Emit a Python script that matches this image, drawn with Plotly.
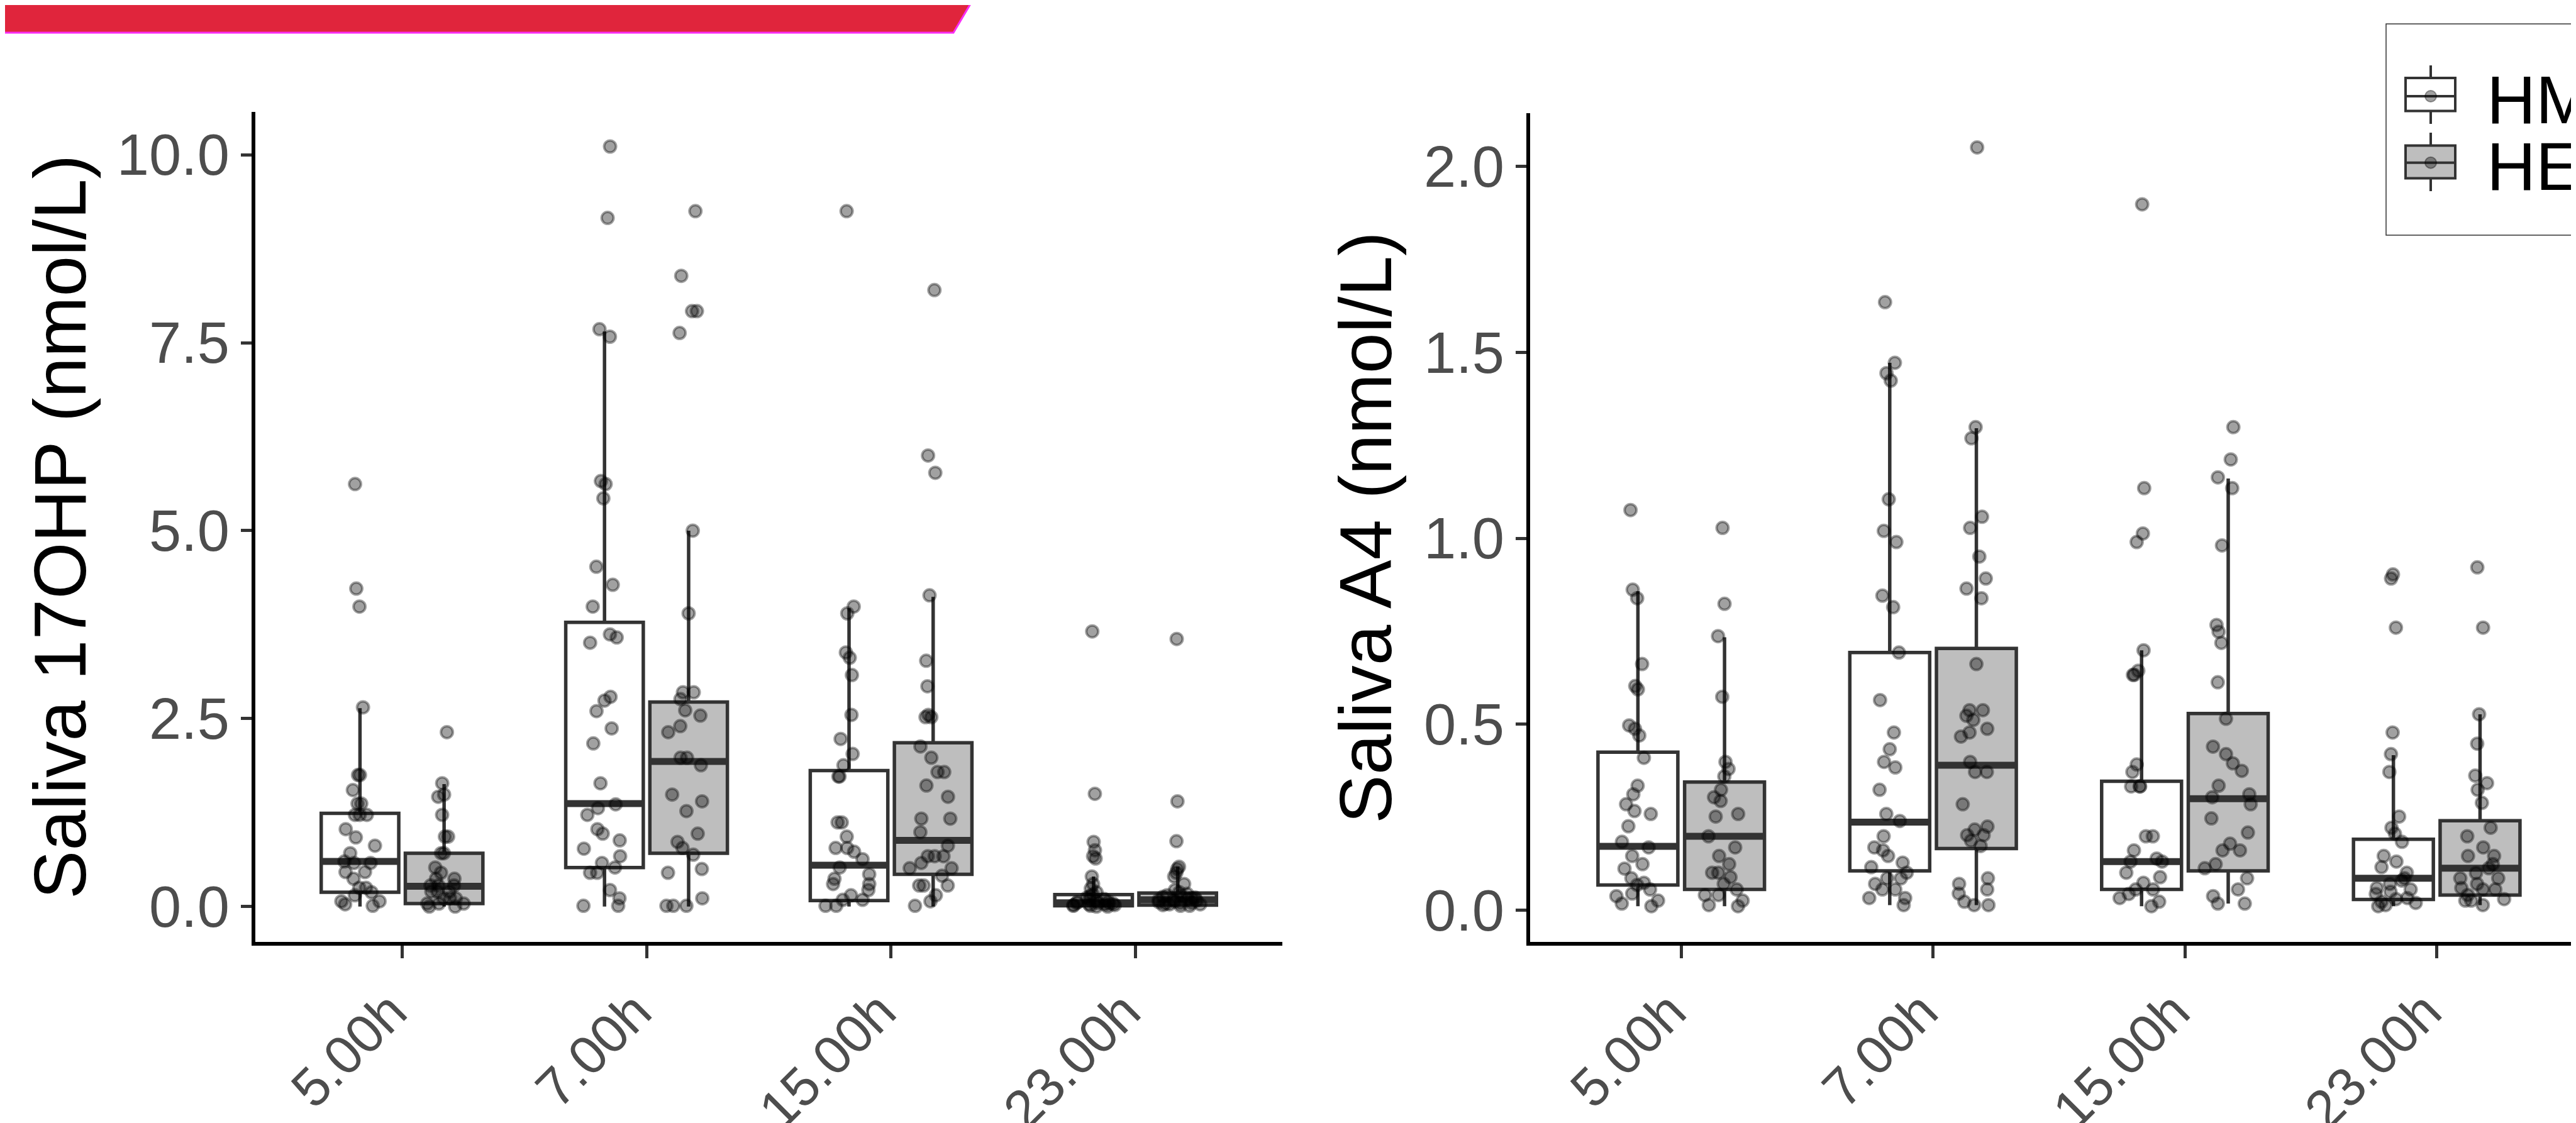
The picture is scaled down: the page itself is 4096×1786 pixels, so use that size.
import plotly.graph_objects as go

W, H = 4096, 1786

TIMES = ["5.00h", "7.00h", "15.00h", "23.00h"]
GROUPS = ["HM", "HE"]

# ---------------- Saliva 17OHP (nmol/L): individual values ----------------
OHP_HM_5 = [5.62, 4.23, 3.99, 2.65, 1.75, 1.75, 1.55, 1.37, 1.37, 1.22, 1.22, 1.22, 1.03, 0.92, 0.81,
            0.71, 0.60, 0.58, 0.58, 0.46, 0.46, 0.37, 0.25, 0.25, 0.19, 0.15, 0.07, 0.07, 0.03, 0.01]
OHP_HM_7 = [10.11, 9.16, 7.68, 7.58, 5.66, 5.62, 5.43, 4.52, 4.28, 3.99, 3.62, 3.58, 3.51, 2.79, 2.74,
            2.60, 2.37, 2.17, 1.64, 1.36, 1.31, 1.22, 1.03, 0.97, 0.88, 0.77, 0.67, 0.58, 0.52, 0.45,
            0.45, 0.22, 0.11, 0.01, 0.01]
OHP_HM_15 = [9.25, 3.99, 3.90, 3.38, 3.31, 3.08, 2.55, 2.23, 2.03, 1.88, 1.73, 1.73, 1.12, 1.12, 0.93,
             0.78, 0.78, 0.73, 0.63, 0.52, 0.43, 0.37, 0.30, 0.30, 0.22, 0.15, 0.09, 0.09, 0.01, 0.01]
OHP_HM_23 = [3.66, 1.50, 0.86, 0.75, 0.67, 0.64, 0.40, 0.30, 0.24, 0.19, 0.16, 0.14, 0.12, 0.10, 0.09,
             0.08, 0.07, 0.06, 0.05, 0.05, 0.04, 0.04, 0.03, 0.03, 0.02, 0.02, 0.01, 0.01, 0.00, 0.00]
OHP_HE_5 = [2.32, 1.64, 1.49, 1.46, 1.22, 0.93, 0.93, 0.71, 0.71, 0.52, 0.45, 0.37, 0.37, 0.28, 0.28,
            0.28, 0.20, 0.20, 0.20, 0.11, 0.11, 0.11, 0.04, 0.04, 0.04, 0.00, 0.00]
OHP_HE_7 = [9.25, 8.39, 7.92, 7.92, 7.63, 5.00, 3.90, 2.85, 2.85, 2.76, 2.61, 2.54, 2.40, 2.32, 1.98,
            1.98, 1.88, 1.49, 1.40, 1.27, 0.97, 0.86, 0.78, 0.69, 0.50, 0.45, 0.11, 0.01, 0.01, 0.01]
OHP_HE_15 = [8.20, 6.00, 5.77, 4.14, 3.27, 2.93, 2.55, 2.52, 2.52, 2.13, 1.98, 1.79, 1.79, 1.61, 1.46,
             1.17, 1.17, 0.99, 0.81, 0.67, 0.67, 0.67, 0.58, 0.51, 0.51, 0.41, 0.28, 0.28, 0.28, 0.15,
             0.07, 0.01]
OHP_HE_23 = [3.56, 1.40, 0.87, 0.53, 0.50, 0.45, 0.40, 0.30, 0.22, 0.19, 0.17, 0.15, 0.14, 0.13, 0.12,
             0.11, 0.10, 0.09, 0.09, 0.08, 0.07, 0.06, 0.05, 0.05, 0.04, 0.03, 0.03, 0.02, 0.01, 0.01]

# box statistics (per time point) for 17OHP
OHP_HM_Q1 = [0.19, 0.52, 0.08, 0.01]
OHP_HM_MED = [0.60, 1.37, 0.55, 0.05]
OHP_HM_Q3 = [1.24, 3.78, 1.81, 0.16]
OHP_HM_LO = [0.00, 0.00, 0.00, 0.00]
OHP_HM_HI = [2.64, 7.65, 3.97, 0.40]
OHP_HE_Q1 = [0.04, 0.71, 0.43, 0.02]
OHP_HE_MED = [0.27, 1.93, 0.88, 0.09]
OHP_HE_Q3 = [0.71, 2.72, 2.18, 0.18]
OHP_HE_LO = [0.00, 0.00, 0.00, 0.00]
OHP_HE_HI = [1.63, 5.00, 4.12, 0.53]

# ---------------- Saliva A4 (nmol/L): individual values ----------------
A4_HM_5 = [1.076, 0.862, 0.839, 0.662, 0.603, 0.594, 0.497, 0.488, 0.470, 0.410, 0.335, 0.312, 0.285,
           0.267, 0.259, 0.226, 0.184, 0.169, 0.146, 0.124, 0.112, 0.086, 0.074, 0.068, 0.056, 0.045,
           0.038, 0.026, 0.018, 0.011]
A4_HM_7 = [1.635, 1.472, 1.444, 1.424, 1.105, 1.020, 0.990, 0.846, 0.815, 0.693, 0.565, 0.478, 0.433,
           0.399, 0.384, 0.324, 0.259, 0.240, 0.199, 0.169, 0.161, 0.146, 0.128, 0.116, 0.101, 0.086,
           0.086, 0.071, 0.056, 0.056, 0.033, 0.033, 0.014]
A4_HM_15 = [1.898, 1.135, 1.013, 0.990, 0.699, 0.644, 0.633, 0.633, 0.392, 0.372, 0.333, 0.333, 0.333,
            0.199, 0.199, 0.161, 0.139, 0.131, 0.131, 0.101, 0.089, 0.074, 0.056, 0.056, 0.044, 0.033,
            0.023, 0.011]
A4_HM_23 = [0.903, 0.892, 0.760, 0.478, 0.420, 0.372, 0.252, 0.222, 0.206, 0.184, 0.146, 0.131, 0.116,
            0.101, 0.086, 0.080, 0.071, 0.060, 0.056, 0.050, 0.044, 0.033, 0.030, 0.023, 0.020, 0.014,
            0.011]
A4_HE_5 = [1.028, 0.824, 0.737, 0.574, 0.399, 0.380, 0.360, 0.324, 0.304, 0.294, 0.259, 0.252, 0.199,
           0.169, 0.146, 0.124, 0.101, 0.101, 0.089, 0.071, 0.056, 0.041, 0.041, 0.026, 0.014, 0.011]
A4_HE_7 = [2.051, 1.299, 1.269, 1.058, 1.028, 0.951, 0.892, 0.865, 0.839, 0.662, 0.538, 0.538, 0.523,
           0.512, 0.488, 0.478, 0.467, 0.399, 0.372, 0.372, 0.285, 0.225, 0.217, 0.202, 0.202, 0.187,
           0.173, 0.086, 0.071, 0.056, 0.045, 0.023, 0.014, 0.014]
A4_HE_15 = [1.299, 1.212, 1.164, 1.135, 0.981, 0.767, 0.749, 0.719, 0.613, 0.515, 0.440, 0.420, 0.395,
            0.375, 0.335, 0.312, 0.304, 0.285, 0.247, 0.209, 0.179, 0.161, 0.161, 0.124, 0.113, 0.086,
            0.056, 0.038, 0.018, 0.018]
A4_HE_23 = [0.922, 0.760, 0.527, 0.448, 0.362, 0.342, 0.324, 0.289, 0.222, 0.199, 0.169, 0.146, 0.146,
            0.124, 0.113, 0.100, 0.086, 0.086, 0.071, 0.060, 0.056, 0.056, 0.041, 0.030, 0.026, 0.026,
            0.014]

# box statistics (per time point) for A4
A4_HM_Q1 = [0.068, 0.106, 0.056, 0.029]
A4_HM_MED = [0.172, 0.237, 0.131, 0.086]
A4_HM_Q3 = [0.425, 0.693, 0.347, 0.191]
A4_HM_LO = [0.011, 0.014, 0.011, 0.011]
A4_HM_HI = [0.858, 1.472, 0.699, 0.417]
A4_HE_Q1 = [0.056, 0.166, 0.106, 0.041]
A4_HE_MED = [0.199, 0.390, 0.300, 0.113]
A4_HE_Q3 = [0.345, 0.704, 0.529, 0.241]
A4_HE_LO = [0.011, 0.014, 0.018, 0.014]
A4_HE_HI = [0.734, 1.296, 1.161, 0.527]

# axis ticks / titles
OHP_TICKS = [0.0, 2.5, 5.0, 7.5, 10.0]
A4_TICKS = [0.0, 0.5, 1.0, 1.5, 2.0]
OHP_TITLE = "Saliva 17OHP (nmol/L)"
A4_TITLE = "Saliva A4 (nmol/L)"

# ---------------- styling ----------------
FONT = "Liberation Sans, Arial, Helvetica, sans-serif"
BOX_LINE = "#333333"
FILL = {"HM": "#FFFFFF", "HE": "#BEBEBE"}
PT_COLOR = "rgba(0,0,0,0.37)"
TICK_GREY = "#4D4D4D"


def X(px):
    return px / W


def Y(py):
    return 1 - py / H


panels = [
    dict(xa="x", ya="y",
         pts={"HM": [OHP_HM_5, OHP_HM_7, OHP_HM_15, OHP_HM_23],
              "HE": [OHP_HE_5, OHP_HE_7, OHP_HE_15, OHP_HE_23]},
         stats={"HM": (OHP_HM_Q1, OHP_HM_MED, OHP_HM_Q3, OHP_HM_LO, OHP_HM_HI),
                "HE": (OHP_HE_Q1, OHP_HE_MED, OHP_HE_Q3, OHP_HE_LO, OHP_HE_HI)}),
    dict(xa="x2", ya="y2",
         pts={"HM": [A4_HM_5, A4_HM_7, A4_HM_15, A4_HM_23],
              "HE": [A4_HE_5, A4_HE_7, A4_HE_15, A4_HE_23]},
         stats={"HM": (A4_HM_Q1, A4_HM_MED, A4_HM_Q3, A4_HM_LO, A4_HM_HI),
                "HE": (A4_HE_Q1, A4_HE_MED, A4_HE_Q3, A4_HE_LO, A4_HE_HI)}),
]

fig = go.Figure()

for p in panels:
    # boxes
    for g in GROUPS:
        q1, med, q3, lo, hi = p["stats"][g]
        fig.add_trace(go.Box(
            x=TIMES, q1=q1, median=med, q3=q3, lowerfence=lo, upperfence=hi,
            orientation="v", xaxis=p["xa"], yaxis=p["ya"], offsetgroup=g, name=g,
            fillcolor=FILL[g], line=dict(color=BOX_LINE, width=5.5), whiskerwidth=0,
            boxpoints=False, showlegend=False, hoverinfo="skip"))
    # thicker median bars
    for g in GROUPS:
        med = p["stats"][g][1]
        fig.add_trace(go.Box(
            x=TIMES, q1=med, median=med, q3=med, lowerfence=med, upperfence=med,
            orientation="v", xaxis=p["xa"], yaxis=p["ya"], offsetgroup=g, name=g,
            fillcolor="rgba(0,0,0,0)", line=dict(color=BOX_LINE, width=11), whiskerwidth=0,
            boxpoints=False, showlegend=False, hoverinfo="skip"))
    # jittered raw points
    for g in GROUPS:
        xs, ys = [], []
        for t, vals in zip(TIMES, p["pts"][g]):
            xs += [t] * len(vals)
            ys += vals
        fig.add_trace(go.Box(
            x=xs, y=ys, orientation="v", xaxis=p["xa"], yaxis=p["ya"], offsetgroup=g, name=g,
            boxpoints="all", jitter=0.65, pointpos=0,
            fillcolor="rgba(0,0,0,0)", line=dict(color="rgba(0,0,0,0)", width=0), whiskerwidth=0,
            marker=dict(size=19, color=PT_COLOR, line=dict(color=PT_COLOR, width=4)),
            showlegend=False, hoverinfo="y"))

common_x = dict(type="category", categoryorder="array", categoryarray=TIMES,
                showline=True, linecolor="black", linewidth=5.5, mirror=False,
                ticks="outside", ticklen=20, tickwidth=4.5, tickcolor=BOX_LINE,
                tickangle=-45, tickfont=dict(family=FONT, size=86, color=TICK_GREY),
                ticklabelshift=-18,
                showgrid=False, zeroline=False, automargin=False)
common_y = dict(showline=True, linecolor="black", linewidth=5.5, mirror=False,
                ticks="outside", ticklen=17, tickwidth=4.5, tickcolor=BOX_LINE,
                tickmode="array", tickformat=".1f",
                tickfont=dict(family=FONT, size=92, color=TICK_GREY),
                showgrid=False, zeroline=False, automargin=False)

shapes = []
# red banner at top-left
shapes.append(dict(type="path", xref="paper", yref="paper",
                   path=f"M 0,{Y(-5)} L {X(1537)},{Y(-5)} L {X(1508)},{Y(44)} L 0,{Y(44)} Z",
                   fillcolor="#E0253C", line=dict(width=0), layer="above"))
shapes.append(dict(type="path", xref="paper", yref="paper",
                   path=f"M 0,{Y(44)} L {X(1508)},{Y(44)} L {X(1537)},{Y(-5)}",
                   fillcolor="rgba(0,0,0,0)", line=dict(color="#F82DF5", width=3), layer="above"))

# legend (drawn glyphs)
shapes.append(dict(type="rect", xref="paper", yref="paper",
                   x0=X(3786), x1=1.05, y0=Y(366), y1=Y(30),
                   fillcolor="white", line=dict(color="#333333", width=1.5), layer="above"))
annotations = []
for g, top, mid, bot, wt, wb, ty in [("HM", 116, 145, 168.5, 96, 189, 150),
                                     ("HE", 223.6, 250.7, 275.4, 203, 296, 256)]:
    cx = 3857
    shapes.append(dict(type="line", xref="paper", yref="paper", x0=X(cx), x1=X(cx), y0=Y(wt), y1=Y(wb),
                       line=dict(color=BOX_LINE, width=4), layer="above"))
    shapes.append(dict(type="rect", xref="paper", yref="paper", x0=X(3817), x1=X(3896), y0=Y(bot), y1=Y(top),
                       fillcolor=FILL[g], line=dict(color=BOX_LINE, width=4), layer="above"))
    shapes.append(dict(type="line", xref="paper", yref="paper", x0=X(3817), x1=X(3896), y0=Y(mid), y1=Y(mid),
                       line=dict(color=BOX_LINE, width=4), layer="above"))
    shapes.append(dict(type="circle", xref="paper", yref="paper", x0=X(cx - 9), x1=X(cx + 9),
                       y0=Y(mid + 9), y1=Y(mid - 9),
                       fillcolor=PT_COLOR, line=dict(color=PT_COLOR, width=2), layer="above"))
    annotations.append(dict(text=g, xref="paper", yref="paper", x=X(3944), y=Y(ty),
                            xanchor="left", yanchor="middle", showarrow=False, height=96,
                            font=dict(family=FONT, size=108, color="black")))

fig.update_layout(
    template="none",
    width=W, height=H, autosize=False,
    margin=dict(l=0, r=0, t=0, b=0, pad=0),
    paper_bgcolor="white", plot_bgcolor="white",
    font=dict(family=FONT, color="black"),
    boxmode="group", boxgap=0.312, boxgroupgap=0.078,
    showlegend=False,
    xaxis=dict(domain=[X(398), X(2031)], range=[-0.6, 3.6], anchor="y", **common_x),
    yaxis=dict(domain=[Y(1490), Y(170)], range=[-0.47, 10.57], anchor="x", tickvals=OHP_TICKS,
               title=dict(text=OHP_TITLE, font=dict(family=FONT, size=116, color="black"), standoff=12),
               **common_y),
    xaxis2=dict(domain=[X(2425), 1.0], range=[-0.6, 3.573], anchor="y2", **common_x),
    yaxis2=dict(domain=[Y(1490), Y(172)], range=[-0.085, 2.143], anchor="x2", tickvals=A4_TICKS,
                title=dict(text=A4_TITLE, font=dict(family=FONT, size=116, color="black"), standoff=14),
                **common_y),
    shapes=shapes,
    annotations=annotations,
)

fig.write_html("out.html")
